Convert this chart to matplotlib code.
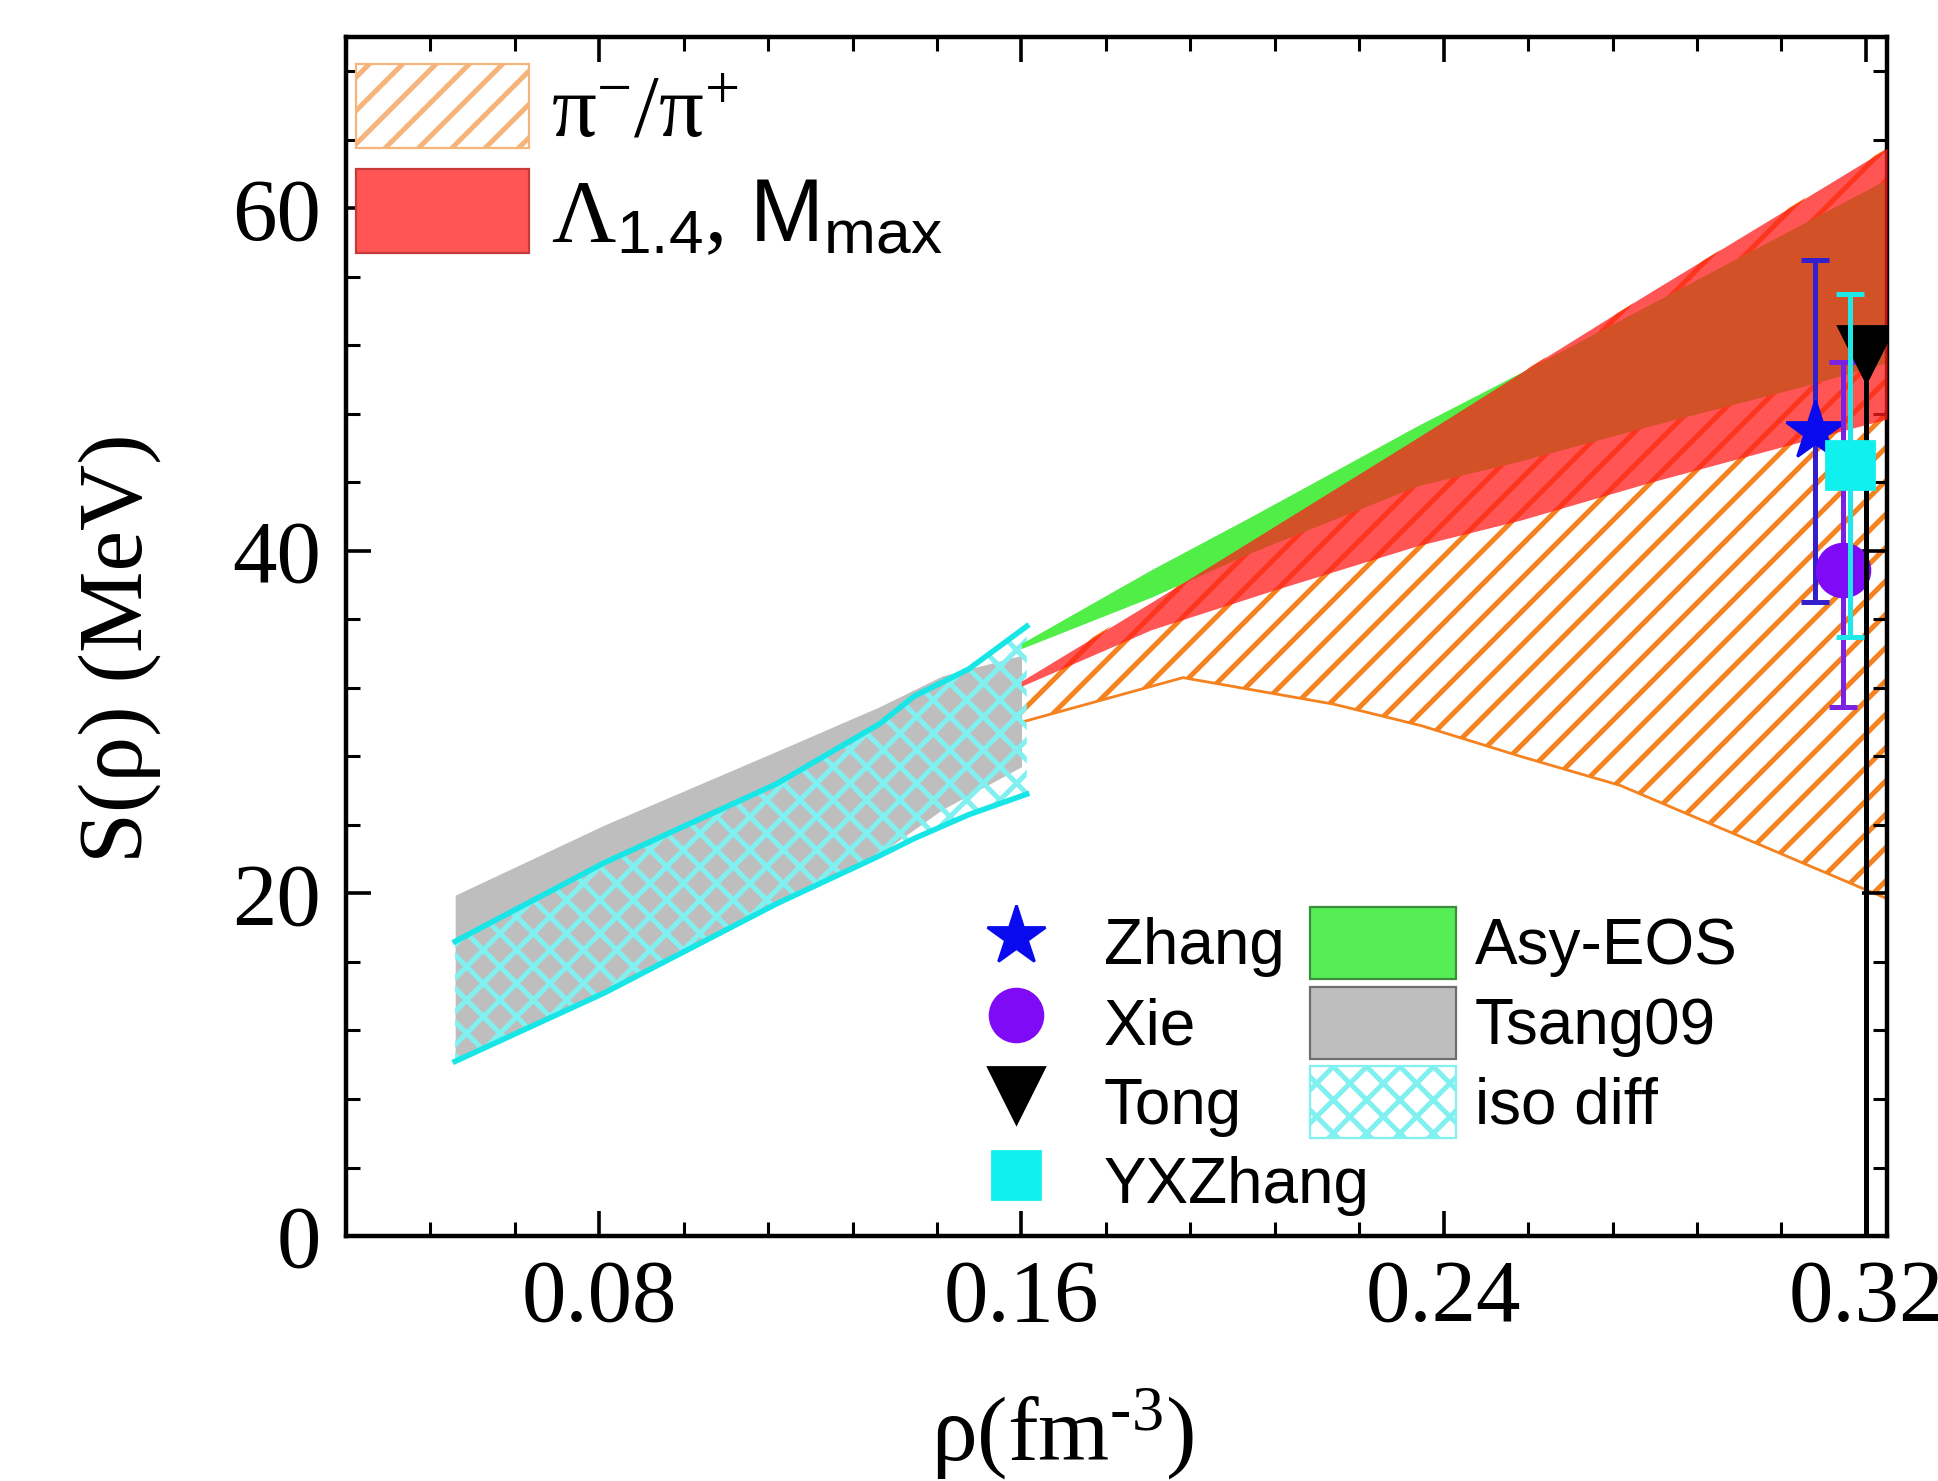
import matplotlib
matplotlib.use("Agg")
import matplotlib.pyplot as plt
from matplotlib.patches import Patch
from matplotlib.lines import Line2D

# ---- data ----
# Tsang09 band (gray)
rho_ts = [0.0527, 0.081, 0.1136, 0.1331, 0.145, 0.16]
ts_hi = [19.9, 24.0, 28.3, 30.9, 32.7, 33.9]
ts_lo = [10.1, 14.1, 19.3, 22.3, 24.9, 27.4]

# iso diff band (cyan cross-hatch)
rho_iso = [0.0527, 0.081, 0.1136, 0.1331, 0.1396, 0.150, 0.161]
iso_hi = [17.2, 21.8, 26.4, 29.9, 31.5, 33.1, 35.6]
iso_lo = [10.2, 14.2, 19.4, 22.2, 23.2, 24.6, 25.8]

# pi-/pi+ band (orange hatch)
rho_pi = [0.16, 0.1906, 0.2192, 0.2357, 0.2546, 0.2735, 0.3201, 0.324]
pi_hi = [32.4, 38.2, 43.6, 46.8, 50.4, 54.0, 62.8, 63.5]
pi_lo = [30.0, 32.6, 31.05, 29.8, 28.0, 26.3, 20.2, 19.7]

# Asy-EOS band (green)
rho_asy = [0.16, 0.1846, 0.2035, 0.235, 0.2539, 0.2791, 0.308, 0.324]
asy_hi = [34.6, 38.9, 42.0, 47.3, 50.3, 54.4, 59.1, 61.7]
asy_lo = [34.3, 37.3, 39.9, 43.8, 45.2, 47.3, 49.6, 51.0]

# Lambda_1.4, M_max band (red)
rho_red = [0.16, 0.1846, 0.2067, 0.235, 0.2546, 0.2791, 0.308, 0.324]
red_hi = [32.4, 37.0, 41.2, 46.6, 50.4, 55.1, 60.5, 63.5]
red_lo = [32.1, 35.4, 37.6, 40.3, 41.8, 44.0, 46.4, 47.7]

# single measurements
pt_names = ["Zhang", "Xie", "Tong", "YXZhang"]
pt_rho = [0.3103, 0.3157, 0.3201, 0.3170]
pt_S = [47.0, 38.9, 51.5, 45.0]
pt_err_lo = [10.0, 8.0, 55.0, 10.0]
pt_err_hi = [10.0, 12.1, 0.0, 10.0]

# ---- style ----
plt.rcParams["font.family"] = ["Liberation Serif", "DejaVu Serif"]
plt.rcParams["mathtext.fontset"] = "custom"
plt.rcParams["mathtext.rm"] = "Liberation Serif"
plt.rcParams["mathtext.it"] = "Liberation Serif:italic"
plt.rcParams["mathtext.bf"] = "Liberation Serif:bold"
plt.rcParams["mathtext.sf"] = "Liberation Sans"
plt.rcParams["hatch.linewidth"] = 1.8

ORANGE = "#f5821e"
GREEN = "#50ee46"
RED = "#ff1c1c"
GRAY = "#bebebe"
CYAN_LINE = "#18e6e6"
CYAN_HATCH = "#80f0f0"

fig = plt.figure(figsize=(9.69, 7.405), dpi=200)
ax = fig.add_axes([0.1785, 0.1654, 0.7952, 0.8096])

# low density bands
ax.fill_between(rho_ts, ts_lo, ts_hi, color=GRAY, lw=0, zorder=1)
ax.fill_between(rho_iso, iso_lo, iso_hi, facecolor="none", edgecolor=CYAN_HATCH,
                hatch="xx", lw=0, zorder=2)
ax.plot(rho_iso, iso_hi, color=CYAN_LINE, lw=2.0, zorder=3)
ax.plot(rho_iso, iso_lo, color=CYAN_LINE, lw=2.0, zorder=3)

# high density bands
ax.fill_between(rho_pi, pi_lo, pi_hi, facecolor="none", edgecolor=ORANGE,
                hatch="//", lw=0, zorder=1)
ax.plot(rho_pi, pi_lo, color=ORANGE, lw=1.0, zorder=1)
ax.fill_between(rho_asy, asy_lo, asy_hi, color=GREEN, lw=0, zorder=2)
ax.fill_between(rho_red, red_lo, red_hi, color=RED, alpha=0.75, lw=0, zorder=3)

# points with error bars
pt_style = {
    "Zhang": dict(marker="*", ms=22, color="#0a0aee", ecolor="#3320cc"),
    "Xie": dict(marker="o", ms=19, color="#7f0af5", ecolor="#7a22e0"),
    "Tong": dict(marker="v", ms=20, color="black", ecolor="black"),
    "YXZhang": dict(marker="s", ms=17, color="#10f0ee", ecolor="#20e8e8"),
}
for i, name in enumerate(pt_names):
    st = pt_style[name]
    ax.errorbar(pt_rho[i], pt_S[i], yerr=[[pt_err_lo[i]], [pt_err_hi[i]]],
                fmt=st["marker"], ms=st["ms"], color=st["color"], mec=st["color"],
                ecolor=st["ecolor"], elinewidth=1.8, capsize=5, capthick=1.8,
                zorder=6 + i)

# ---- axes ----
ax.set_xlim(0.032, 0.324)
ax.set_ylim(0, 70)
ax.set_xticks([0.08, 0.16, 0.24, 0.32])
ax.set_xticks([0.032 + 0.016 * k for k in range(19)], minor=True)
ax.set_xticklabels(["0.08", "0.16", "0.24", "0.32"])
ax.set_yticks([0, 20, 40, 60])
ax.set_yticks(list(range(0, 71, 4)), minor=True)
ax.tick_params(which="both", direction="in", top=True, right=True)
ax.tick_params(which="major", length=9, width=1.3, labelsize=32)
ax.tick_params(axis="x", which="major", pad=8)
ax.tick_params(axis="y", which="major", pad=9)
ax.tick_params(which="minor", length=5, width=1.1)
for sp in ax.spines.values():
    sp.set_linewidth(1.6)

ax.set_ylabel("S(ρ) (MeV)", fontsize=33)
ax.yaxis.set_label_coords(-0.120, 0.49)
ax.set_xlabel(r"ρ(fm$^{\text{-}3}$)", fontsize=33)
ax.xaxis.set_label_coords(0.465, -0.125)

# ---- legends ----
leg_a = ax.legend(
    handles=[Patch(facecolor="white", edgecolor="#f6b47a", hatch="//", lw=0.8),
             Patch(facecolor="#ff5555", edgecolor="#c83a3a", lw=0.8)],
    labels=["π$^{-}$/π$^{+}$", r"$\Lambda_{\mathsf{1.4}}$, $\mathsf{M}_{\mathsf{max}}$"],
    loc="upper left", bbox_to_anchor=(0.0065, 0.9775), frameon=False,
    borderpad=0, borderaxespad=0, fontsize=32, handlelength=1.95,
    handleheight=1.077, handletextpad=0.24, labelspacing=0.15)
ax.add_artist(leg_a)

sans = {"family": ["Liberation Sans", "DejaVu Sans"], "size": 23}
marker_handles = [Line2D([], [], ls="none", marker=pt_style[n]["marker"],
                         ms=pt_style[n]["ms"], color=pt_style[n]["color"])
                  for n in pt_names]
leg_b = ax.legend(handles=marker_handles, labels=pt_names, loc="upper left",
                  bbox_to_anchor=(0.3874, 0.2744), frameon=False, borderpad=0,
                  borderaxespad=0, prop=sans, handlelength=2.28, handleheight=1.357,
                  handletextpad=0.235, labelspacing=0.12, numpoints=1)
ax.add_artist(leg_b)

band_handles = [Patch(facecolor="#55ee55", edgecolor="#3c8c3c", lw=0.8),
                Patch(facecolor=GRAY, edgecolor="#6e6e6e", lw=0.8),
                Patch(facecolor="white", edgecolor=CYAN_HATCH, hatch="xx", lw=0.8)]
ax.legend(handles=band_handles, labels=["Asy-EOS", "Tsang09", "iso diff"],
          loc="upper left", bbox_to_anchor=(0.6256, 0.2744), frameon=False,
          borderpad=0, borderaxespad=0, prop=sans, handlelength=2.28,
          handleheight=1.357, handletextpad=0.3, labelspacing=0.12)

fig.savefig("out.png", dpi=200)
